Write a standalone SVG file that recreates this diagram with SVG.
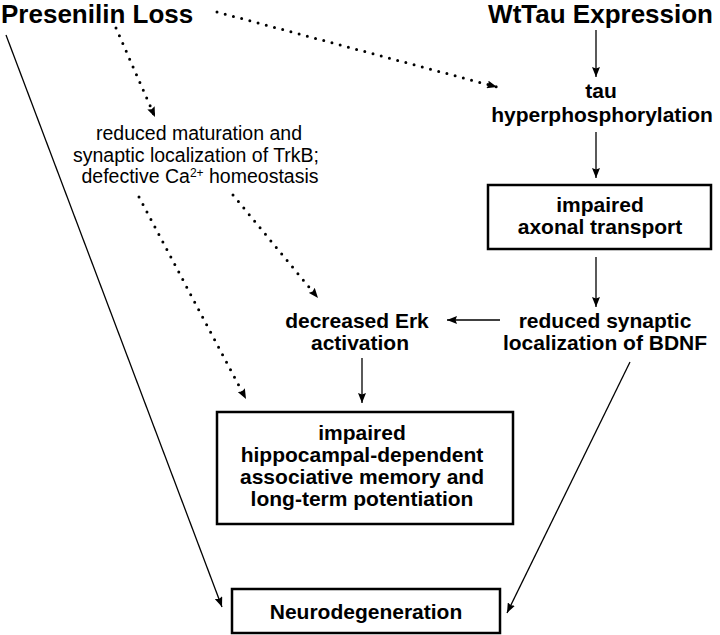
<svg xmlns="http://www.w3.org/2000/svg" width="720" height="635" viewBox="0 0 720 635">
<style>
.b{font-family:"Liberation Sans",Arial,sans-serif;font-weight:bold;fill:#000}
.h{font-size:26px}
.t{font-size:21px;text-anchor:middle}
.r{font-family:"Liberation Sans",Arial,sans-serif;font-size:19.5px;fill:#000;text-anchor:middle}
.box{fill:#fff;stroke:#000;stroke-width:2.5}
.s{fill:none;stroke:#000;stroke-width:1.3}
.d{fill:none;stroke:#000;stroke-width:3;stroke-dasharray:0 8.5;stroke-linecap:round}
</style>
<defs>
<marker id="ah" markerUnits="userSpaceOnUse" markerWidth="10" markerHeight="8" refX="10" refY="4" orient="auto">
<path d="M0,0 L10,4 L0,8 L1.5,4 Z" fill="#000"/>
</marker>
</defs>
<rect width="720" height="635" fill="#fff"/>
<g id="connectors">
<line class="d" x1="217" y1="12" x2="497" y2="87" marker-end="url(#ah)"/>
<line class="d" x1="116" y1="28" x2="155" y2="117" marker-end="url(#ah)"/>
<line class="d" x1="233" y1="195" x2="318" y2="298" marker-end="url(#ah)"/>
<line class="d" x1="139" y1="197" x2="246" y2="399" marker-end="url(#ah)"/>
<line class="s" x1="596" y1="30" x2="596" y2="77" marker-end="url(#ah)"/>
<line class="s" x1="596" y1="132" x2="596" y2="178" marker-end="url(#ah)"/>
<line class="s" x1="596" y1="257" x2="596" y2="307" marker-end="url(#ah)"/>
<line class="s" x1="500" y1="320" x2="447" y2="320" marker-end="url(#ah)"/>
<line class="s" x1="362" y1="358" x2="362" y2="403" marker-end="url(#ah)"/>
<line class="s" x1="6" y1="35" x2="222" y2="607" marker-end="url(#ah)"/>
<line class="s" x1="630" y1="362" x2="507" y2="613" marker-end="url(#ah)"/>
</g>
<g id="presenilin">
<text class="b h" x="1" y="23">Presenilin Loss</text>
</g>
<g id="wttau">
<text class="b h" x="713" y="23" text-anchor="end">WtTau Expression</text>
</g>
<g id="tau-hyper">
<text class="b t" x="601" y="98">tau</text>
<text class="b t" x="602" y="122">hyperphosphorylation</text>
</g>
<g id="trkb">
<text class="r" x="199" y="140">reduced maturation and</text>
<text class="r" x="196" y="161.5">synaptic localization of TrkB;</text>
<text class="r" x="200" y="183">defective Ca<tspan font-size="12" dy="-6">2+</tspan><tspan dy="6"> homeostasis</tspan></text>
</g>
<g id="axonal">
<rect class="box" x="488" y="185" width="223" height="64"/>
<text class="b t" x="600" y="212">impaired</text>
<text class="b t" x="600" y="234">axonal transport</text>
</g>
<g id="bdnf">
<text class="b t" x="605" y="328">reduced synaptic</text>
<text class="b t" x="605" y="350">localization of BDNF</text>
</g>
<g id="erk">
<text class="b t" x="357" y="328">decreased Erk</text>
<text class="b t" x="360" y="350">activation</text>
</g>
<g id="memory">
<rect class="box" x="217" y="412" width="296" height="112"/>
<text class="b t" x="362" y="440">impaired</text>
<text class="b t" x="362" y="462">hippocampal-dependent</text>
<text class="b t" x="362" y="484">associative memory and</text>
<text class="b t" x="362" y="506">long-term potentiation</text>
</g>
<g id="neuro">
<rect class="box" x="232" y="589" width="268" height="44"/>
<text class="b t" x="366" y="619">Neurodegeneration</text>
</g>
</svg>
